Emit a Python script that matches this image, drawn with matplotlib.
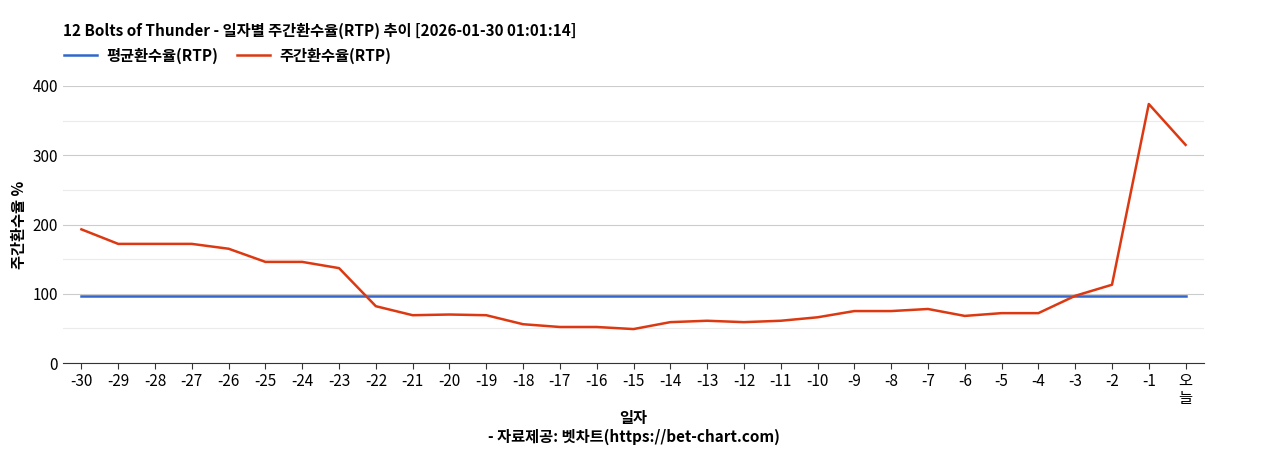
import matplotlib
matplotlib.use("Agg")
import matplotlib.pyplot as plt

plt.rcParams['font.family'] = ['Noto Sans CJK KR', 'DejaVu Sans']

labels = [str(i) for i in range(-30, 0)] + ["오\n늘"]
weekly = [193, 172, 172, 172, 165, 146, 146, 137, 82, 69, 70, 69, 56, 52, 52, 49,
          59, 61, 59, 61, 66, 75, 75, 78, 68, 72, 72, 97, 113, 374, 315]
avg = [96.5] * len(labels)

fig = plt.figure(figsize=(12.68, 4.5), dpi=100)
ax = fig.add_axes([63/1268, 1-363/450, (1204-63)/1268, (363-86)/450])
x = list(range(len(labels)))
ax.plot(x, avg, color='#3366cc', lw=1.8, label='평균환수율(RTP)')
ax.plot(x, weekly, color='#dc3912', lw=1.8, label='주간환수율(RTP)')
ax.set_xlim(-0.5, len(labels) - 0.5)
ax.set_ylim(0, 400)
ax.set_yticks([0, 100, 200, 300, 400])
ax.set_yticks([50, 150, 250, 350], minor=True)
ax.grid(axis='y', which='major', color='#cccccc', lw=0.8)
ax.grid(axis='y', which='minor', color='#ebebeb', lw=0.8)
ax.tick_params(axis='y', which='both', length=0, labelsize=11)
ax.tick_params(axis='x', length=4, labelsize=11, color='#333333')
ax.set_xticks(x)
ax.set_xticklabels(labels, linespacing=1.0)
for s in ['top', 'right', 'left']:
    ax.spines[s].set_visible(False)
ax.spines['bottom'].set_color('#333333')
ax.set_axisbelow(True)
ax.set_ylabel('주간환수율 %', fontsize=11, fontweight='bold')
ax.set_xlabel('일자', fontsize=11, fontweight='bold', labelpad=2)
fig.text(63/1268, 1-31/450, '12 Bolts of Thunder - 일자별 주간환수율(RTP) 추이 [2026-01-30 01:01:14]',
         fontsize=11, fontweight='bold', va='center')
fig.text(0.5, 1-437/450, '- 자료제공: 벳차트(https://bet-chart.com)', fontsize=11,
         fontweight='bold', ha='center', va='center')
fig.legend(loc='upper left', bbox_to_anchor=(50/1268, 1-34/450), ncol=2, frameon=False,
           handlelength=2.2, columnspacing=1.2, handletextpad=0.6,
           prop={'weight': 'bold', 'size': 11})
fig.savefig('out.png', dpi=100)
